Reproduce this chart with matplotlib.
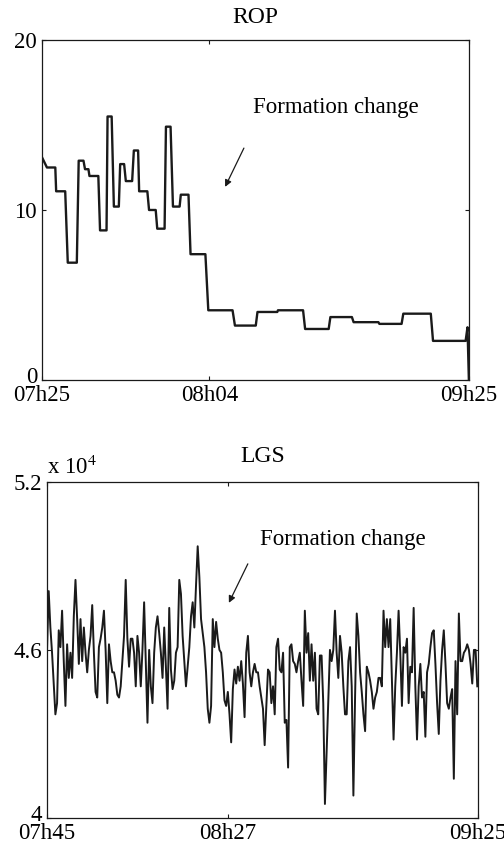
# -*- coding: utf-8 -*-
"""
ROP / LGS の2段グラフ
地層の変化 (Formation change) を矢印で示す
"""

import numpy as np
import matplotlib
matplotlib.use("Agg")
import matplotlib.pyplot as plt
from matplotlib.transforms import ScaledTranslation

plt.rcParams['font.family'] = ['Liberation Serif', 'DejaVu Serif']
plt.rcParams['mathtext.fontset'] = 'stix'

# ROP (サンプル番号, 値) 階段状
rop_idx = [0, 2.9, 7.8, 8.3, 13.6, 15.1, 20.4, 21.5, 24.3, 25.2,
           27.2, 27.8, 33.0, 34.0, 37.8, 38.4, 40.8, 42.1, 45.0, 45.8,
           48.1, 49.1, 52.8, 53.8, 56.3, 56.9, 61.7, 62.7, 66.6, 67.5,
           71.8, 72.6, 75.3, 76.7, 80.6, 81.3, 85.8, 87.0, 95.7, 97.4,
           111.6, 113.0, 125.2, 126.2, 137.8, 138.2, 152.9, 154.1, 167.9, 168.9,
           181.5, 182.5, 197.0, 197.6, 210.6, 211.6, 227.7, 229.0, 248.1, 249.2,
           250.0]
rop_val = [13.1, 12.5, 12.5, 11.1, 11.1, 6.9, 6.9, 12.9, 12.9, 12.4,
           12.4, 12.0, 12.0, 8.8, 8.8, 15.5, 15.5, 10.2, 10.2, 12.7,
           12.7, 11.7, 11.7, 13.5, 13.5, 11.1, 11.1, 10.0, 10.0, 8.9,
           8.9, 14.9, 14.9, 10.2, 10.2, 10.9, 10.9, 7.4, 7.4, 4.1,
           4.1, 3.2, 3.2, 4.0, 4.0, 4.1, 4.1, 3.0, 3.0, 3.7,
           3.7, 3.4, 3.4, 3.3, 3.3, 3.9, 3.9, 2.3, 2.3, 3.1,
           0.0]
rop_ticks = [0, 98, 250]
rop_labels = ['07h25', '08h04', '09h25']

# LGS (単位 x 10^4)
lgs_val = [4.60, 4.81, 4.68, 4.59, 4.48, 4.37, 4.41, 4.67, 4.61, 4.74,
           4.56, 4.40, 4.62, 4.50, 4.59, 4.50, 4.72, 4.85, 4.71, 4.55,
           4.71, 4.56, 4.68, 4.59, 4.52, 4.60, 4.65, 4.76, 4.59, 4.45,
           4.43, 4.61, 4.64, 4.68, 4.74, 4.60, 4.41, 4.62, 4.56, 4.52,
           4.52, 4.49, 4.44, 4.43, 4.47, 4.56, 4.65, 4.85, 4.64, 4.54,
           4.64, 4.64, 4.59, 4.47, 4.65, 4.59, 4.47, 4.60, 4.77, 4.56,
           4.34, 4.60, 4.47, 4.41, 4.59, 4.68, 4.72, 4.66, 4.59, 4.50,
           4.68, 4.54, 4.39, 4.75, 4.53, 4.46, 4.49, 4.59, 4.61, 4.85,
           4.80, 4.65, 4.56, 4.47, 4.54, 4.61, 4.72, 4.77, 4.68, 4.83,
           4.97, 4.86, 4.71, 4.66, 4.61, 4.52, 4.39, 4.34, 4.40, 4.71,
           4.61, 4.70, 4.64, 4.60, 4.59, 4.52, 4.42, 4.40, 4.45, 4.37,
           4.27, 4.46, 4.53, 4.48, 4.54, 4.49, 4.56, 4.48, 4.36, 4.59,
           4.65, 4.52, 4.47, 4.52, 4.55, 4.52, 4.52, 4.47, 4.43, 4.39,
           4.26, 4.40, 4.53, 4.52, 4.41, 4.47, 4.37, 4.61, 4.64, 4.53,
           4.52, 4.59, 4.34, 4.35, 4.18, 4.61, 4.62, 4.56, 4.55, 4.52,
           4.56, 4.59, 4.49, 4.40, 4.74, 4.59, 4.66, 4.49, 4.62, 4.49,
           4.59, 4.39, 4.37, 4.58, 4.58, 4.41, 4.05, 4.23, 4.41, 4.60,
           4.56, 4.60, 4.74, 4.59, 4.50, 4.65, 4.59, 4.47, 4.37, 4.37,
           4.56, 4.61, 4.47, 4.08, 4.43, 4.73, 4.65, 4.52, 4.45, 4.37,
           4.31, 4.54, 4.52, 4.49, 4.45, 4.39, 4.43, 4.45, 4.50, 4.50,
           4.47, 4.74, 4.61, 4.71, 4.61, 4.71, 4.49, 4.28, 4.47, 4.59,
           4.74, 4.59, 4.40, 4.61, 4.59, 4.64, 4.41, 4.54, 4.52, 4.75,
           4.47, 4.28, 4.47, 4.55, 4.43, 4.45, 4.29, 4.52, 4.55, 4.61,
           4.66, 4.67, 4.55, 4.41, 4.30, 4.49, 4.60, 4.67, 4.55, 4.41,
           4.39, 4.43, 4.46, 4.14, 4.56, 4.37, 4.73, 4.56, 4.56, 4.59,
           4.60, 4.62, 4.60, 4.55, 4.48, 4.60, 4.60, 4.47]
lgs_ticks = [0, 108, 257.4]
lgs_labels = ['07h45', '08h27', '09h25']

fs = 16.5
col = '#1a1a1a'

fig = plt.figure(figsize=(5.04, 8.51), dpi=100)

# 上段 ROP
ax1 = fig.add_axes([0.0833, 0.5535, 0.847, 0.3995])
ax1.plot(rop_idx, rop_val, color=col, lw=1.7)
ax1.set_xlim(0, 250)
ax1.set_ylim(0, 20)
ax1.set_xticks(rop_ticks)
ax1.set_xticklabels(rop_labels)
ax1.set_yticks([0, 10, 20])
ax1.set_title('ROP', fontsize=fs + 0.5, pad=12)
ax1.text(0.494, 0.77, 'Formation change', transform=ax1.transAxes,
         fontsize=fs, ha='left', va='bottom')
ax1.annotate('', xy=(0.429, 0.568), xytext=(0.473, 0.682),
             xycoords='axes fraction', textcoords='axes fraction',
             arrowprops=dict(arrowstyle='-|>', color=col, lw=0.9,
                             mutation_scale=10, shrinkA=0, shrinkB=0))

# 下段 LGS
ax2 = fig.add_axes([0.0933, 0.0388, 0.855, 0.395])
x = np.arange(len(lgs_val))
ax2.plot(x, lgs_val, color=col, lw=1.4)
ax2.set_xlim(0, 257.4)
ax2.set_ylim(4.0, 5.2)
ax2.set_xticks(lgs_ticks)
ax2.set_xticklabels(lgs_labels)
ax2.set_yticks([4.0, 4.6, 5.2])
ax2.set_yticklabels(['4', '4.6', '5.2'])
ax2.set_title('LGS', fontsize=fs + 0.5, pad=14)
ax2.text(0.0, 1.008, r'x 10$^{4}$', transform=ax2.transAxes,
         fontsize=fs, ha='left', va='bottom')
ax2.text(0.494, 0.8125, 'Formation change', transform=ax2.transAxes,
         fontsize=fs, ha='left', va='baseline')
ax2.annotate('', xy=(0.422, 0.640), xytext=(0.466, 0.756),
             xycoords='axes fraction', textcoords='axes fraction',
             arrowprops=dict(arrowstyle='-|>', color=col, lw=0.9,
                             mutation_scale=10, shrinkA=0, shrinkB=0))

for ax in (ax1, ax2):
    ax.tick_params(direction='in', top=True, right=True, length=3,
                   labelsize=fs, pad=3.5, color=col)
    for sp in ax.spines.values():
        sp.set_linewidth(0.9)
        sp.set_color(col)
    # 一番下の y ラベルを少し上へ (原図と同様)
    lab = ax.get_yticklabels()[0]
    lab.set_transform(lab.get_transform() + ScaledTranslation(0, 5 / 100, fig.dpi_scale_trans))

fig.savefig('out.png', dpi=100)
